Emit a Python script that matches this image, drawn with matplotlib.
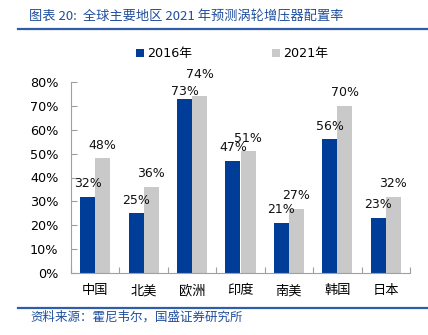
import matplotlib
matplotlib.use("Agg")
import matplotlib.pyplot as plt
import numpy as np
from matplotlib.patches import Patch
from matplotlib.lines import Line2D

plt.rcParams['font.family'] = ['DejaVu Sans', 'Noto Sans CJK SC']

regions = ["中国", "北美", "欧洲", "印度", "南美", "韩国", "日本"]
rate_2016 = [0.32, 0.25, 0.73, 0.47, 0.21, 0.56, 0.23]
rate_2021 = [0.48, 0.36, 0.74, 0.51, 0.27, 0.70, 0.32]
series_names = ["2016年", "2021年"]
yticks = [0.0, 0.1, 0.2, 0.3, 0.4, 0.5, 0.6, 0.7, 0.8]

BLUE = "#003D99"
GREY = "#C9C9C9"
TITLE_BLUE = "#1F4E9E"
RULE_BLUE = "#2E5EAA"

W, H = 428, 335
fig = plt.figure(figsize=(W / 100, H / 100), dpi=100)
ax = fig.add_axes([71 / W, 1 - 273 / H, (410 - 71) / W, (273 - 82) / H])

x = np.arange(len(regions))
bw = 0.31
b1 = ax.bar(x - bw / 2, rate_2016, bw, color=BLUE, label=series_names[0])
b2 = ax.bar(x + bw / 2, rate_2021, bw, color=GREY, label=series_names[1])

# value labels sit above the bars; the two Europe labels are staggered so they don't collide
label_lift = {(0, 2): 5.5, (1, 2): 16.0}
for si, (bars, vals) in enumerate(((b1, rate_2016), (b2, rate_2021))):
    for ci, (rect, v) in enumerate(zip(bars, vals)):
        ax.annotate(f"{round(v * 100):d}%",
                    (rect.get_x() + rect.get_width() / 2, v),
                    xytext=(0, label_lift.get((si, ci), 9.5)), textcoords="offset points",
                    ha="center", va="center", fontsize=9, color="#111111")

ax.set_xlim(-0.5, len(regions) - 0.5)
ax.set_ylim(0, 0.8)
ax.set_yticks(yticks)
ax.set_yticklabels([f"{int(round(t * 100))}%" for t in yticks], fontsize=9.2)
ax.tick_params(axis="y", direction="in", length=4, width=0.8, color="#A0A0A0", pad=9)

# category boundary ticks on the x axis, names centred between them
ax.set_xticks(np.arange(len(regions) + 1) - 0.5)
ax.set_xticklabels([])
ax.set_xticks(x, minor=True)
ax.set_xticklabels(regions, minor=True, fontsize=9.5, family=['Noto Sans CJK SC'])
ax.tick_params(axis="x", which="major", direction="in", length=4, width=0.8, color="#A0A0A0")
ax.tick_params(axis="x", which="minor", length=0, pad=8)

for s in ("top", "right"):
    ax.spines[s].set_visible(False)
for s in ("left", "bottom"):
    ax.spines[s].set_color("#A0A0A0")
    ax.spines[s].set_linewidth(0.8)

# header, rules and footer
fig.text(29 / W, 1 - 17 / H, "图表 20:  全球主要地区 2021 年预测涡轮增压器配置率",
         fontsize=9.5, color=TITLE_BLUE, va="center", ha="left",
         family=['Noto Sans CJK SC'], style="italic")
fig.add_artist(Line2D([18 / W, 1.0], [1 - 29 / H, 1 - 29 / H],
                      color=RULE_BLUE, linewidth=1.6, transform=fig.transFigure))
fig.add_artist(Line2D([18 / W, 1.0], [1 - 307.5 / H, 1 - 307.5 / H],
                      color=RULE_BLUE, linewidth=1.6, transform=fig.transFigure))
fig.text(30 / W, 1 - 317 / H, "资料来源：霍尼韦尔，国盛证券研究所",
         fontsize=9, color=TITLE_BLUE, va="center", ha="left",
         family=['Noto Sans CJK SC'], style="italic")

handles = [Patch(facecolor=BLUE), Patch(facecolor=GREY)]
fig.legend(handles, series_names, loc="center", bbox_to_anchor=(232 / W, 1 - 54 / H),
           ncol=2, frameon=False, fontsize=9.2, handlelength=0.6, handleheight=0.6,
           handletextpad=0.25, columnspacing=6.3)

fig.savefig("out.png", dpi=100)
